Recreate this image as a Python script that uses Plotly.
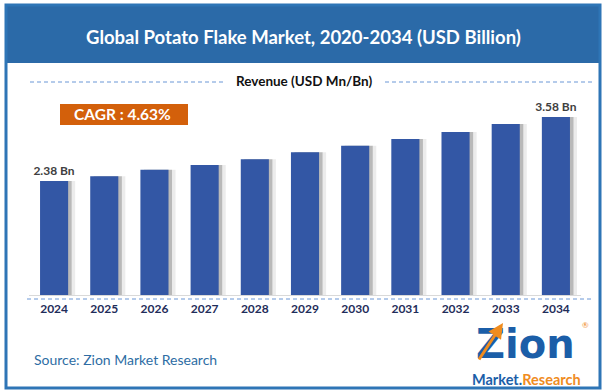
import plotly.graph_objects as go

years = ["2024", "2025", "2026", "2027", "2028", "2029", "2030", "2031", "2032", "2033", "2034"]
revenue = [2.38, 2.47, 2.59, 2.68, 2.79, 2.92, 3.04, 3.17, 3.30, 3.45, 3.58]
title_text = "Global Potato Flake Market, 2020-2034 (USD Billion)"
cagr_text = "CAGR : 4.63%"
axis_title = "Revenue (USD Mn/Bn)"
source_text = "Source: Zion Market Research"

W, H = 606, 392
FONT = "Lato"


def px(x):
    return x / W


def py(y):
    return 1 - y / H


labels = [f"{v:.2f} Bn" if i in (0, len(revenue) - 1) else "" for i, v in enumerate(revenue)]

fig = go.Figure()
# soft shadows
fig.add_trace(go.Bar(x=years, y=revenue, width=0.56, offset=-0.28 + 0.14,
                     marker=dict(color="rgba(160,160,160,0.2)", line=dict(width=0)),
                     hoverinfo="skip", showlegend=False))
fig.add_trace(go.Bar(x=years, y=revenue, width=0.56, offset=-0.28 + 0.07,
                     marker=dict(color="rgba(110,110,110,0.4)", line=dict(width=0)),
                     hoverinfo="skip", showlegend=False))
fig.add_trace(go.Bar(x=years, y=revenue, width=0.56, offset=-0.28,
                     marker=dict(color="#3357A5", line=dict(width=0)),
                     text=labels, textposition="outside", cliponaxis=False, constraintext="none",
                     textfont=dict(family=FONT, size=12, color="#404040", weight="bold"),
                     showlegend=False))

shapes = []
# outer border
shapes.append(dict(type="rect", xref="paper", yref="paper", x0=px(6), x1=px(600), y0=py(388), y1=py(5),
                   line=dict(color="#2E75B6", width=3), fillcolor="rgba(0,0,0,0)", layer="above"))
# title band
shapes.append(dict(type="rect", xref="paper", yref="paper", x0=px(6), x1=px(600), y0=py(63), y1=py(5),
                   line=dict(width=0), fillcolor="#2B6AA8", layer="below"))
# dashed lines near axis title
for x0, x1 in ((30, 223), (385, 593)):
    shapes.append(dict(type="line", xref="paper", yref="paper", x0=px(x0), x1=px(x1), y0=py(82), y1=py(82),
                       line=dict(color="#6B97D6", width=1, dash="4px,3px")))
# dashed line below the axis
shapes.append(dict(type="line", xref="paper", yref="paper", x0=px(27), x1=px(594), y0=py(299), y1=py(299),
                   line=dict(color="#6B97D6", width=1, dash="4px,3px")))
# CAGR box
shapes.append(dict(type="rect", xref="paper", yref="paper", x0=px(60), x1=px(188), y0=py(125), y1=py(104),
                   line=dict(width=0), fillcolor="#D3600B"))

annotations = [
    dict(text=f"<b>{title_text}</b>", x=px(303), y=py(37), xref="paper", yref="paper", showarrow=False,
         font=dict(family=FONT, size=18.5, color="white"), xanchor="center", yanchor="middle"),
    dict(text=f"<b>{axis_title}</b>", x=px(304), y=py(81), xref="paper", yref="paper", showarrow=False,
         font=dict(family=FONT, size=13.5, color="#111111"), xanchor="center", yanchor="middle"),
    dict(text=f"<b>{cagr_text}</b>", x=px(122), y=py(114.5), xref="paper", yref="paper", showarrow=False,
         font=dict(family=FONT, size=15.5, color="white"), xanchor="center", yanchor="middle"),
    dict(text=source_text, x=px(32), y=py(359), xref="paper", yref="paper", showarrow=False,
         font=dict(family=FONT, size=14, color="#2E6DA4"), xanchor="left", yanchor="middle"),
    # logo approximation
    dict(text="<b>Zion</b>", x=px(525), y=py(344), xref="paper", yref="paper", showarrow=False,
         font=dict(family="DejaVu Sans", size=40, color="#1B5EA8"), xanchor="center", yanchor="middle",
         borderpad=0),
    dict(text="<b><span style='color:#1B5EA8'>Market</span>.<span style='color:#F08C1E'>Research</span></b>",
         x=px(526), y=py(379), xref="paper", yref="paper", showarrow=False,
         font=dict(family=FONT, size=14.5, color="#1B5EA8"), xanchor="center", yanchor="middle",
         borderpad=0),
    dict(text="®", x=px(585), y=py(325), xref="paper", yref="paper", showarrow=False,
         font=dict(family=FONT, size=8, color="#F08C1E"), xanchor="center", yanchor="middle",
         borderpad=0),
    dict(text="", x=px(503), y=py(323), ax=-25, ay=38, xref="paper", yref="paper",
         showarrow=True, arrowhead=2, arrowsize=1, arrowwidth=3, arrowcolor="#F08C1E"),
]

fig.update_layout(
    width=W, height=H,
    margin=dict(l=0, r=0, t=0, b=0),
    paper_bgcolor="white", plot_bgcolor="white",
    barmode="overlay",
    shapes=shapes, annotations=annotations,
    font=dict(family=FONT),
    xaxis=dict(domain=[px(29), px(581)], showline=True, linecolor="#D9D9D9", linewidth=1,
               ticks="outside", ticklen=3, tickcolor="rgba(0,0,0,0)", showgrid=False,
               tickfont=dict(family=FONT, size=12, color="#1F2D5A", weight="bold"),
               fixedrange=True),
    yaxis=dict(domain=[py(295), py(60)], range=[0.2425, 0.2425 + 235 / 53.33], visible=False,
               showgrid=False, fixedrange=True),
)

fig.write_html("out.html", config={"displayModeBar": False},
               post_script="document.body.style.margin='0';document.body.style.overflow='hidden';")
